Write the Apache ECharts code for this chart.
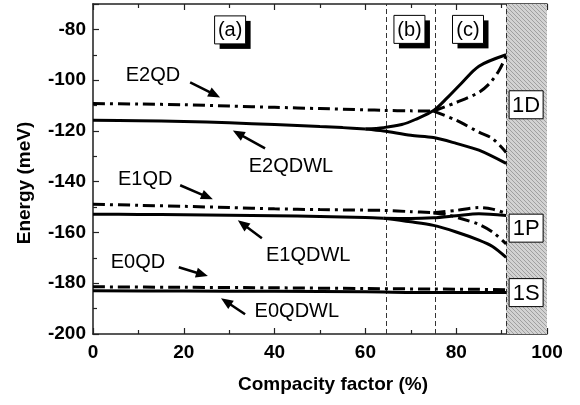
<!DOCTYPE html>
<html><head><meta charset="utf-8">
<script src="https://cdn.jsdelivr.net/npm/echarts@6/dist/echarts.min.js"></script>
<style>html,body{margin:0;padding:0;background:#fff}#c{width:580px;height:405px}</style>
</head><body><div id="c"></div>
<script>
// ---- data ----
const xTicks = [0, 20, 40, 60, 80, 100];
const yTicks = [-200, -180, -160, -140, -120, -100, -80];
const regionLines = [64.5, 75.3, 91];
const xTitle = 'Compacity factor (%)';
const yTitle = 'Energy (meV)';

const e2qdX = [0, 10, 20, 30, 40, 50, 60, 64, 70, 75];
const e2qdY = [-109.2, -109.4, -109.7, -110.2, -110.7, -111.2, -111.7, -111.9, -112.1, -112.2];
const e2qdUpX = [75, 80, 85, 87.5, 89.5, 91];
const e2qdUpY = [-112.2, -108.8, -104.8, -101, -96, -90.5];
const e2qdLoX = [75, 80, 85, 88, 91];
const e2qdLoY = [-112.2, -115.8, -120.5, -123, -128.5];

const e2wlX = [0, 10, 20, 30, 40, 50, 55, 60];
const e2wlY = [-115.8, -116, -116.3, -116.8, -117.5, -118.3, -118.7, -119.2];
const e2wlUpX = [60, 64, 68, 71, 75, 78, 81, 85, 91];
const e2wlUpY = [-119.2, -118.7, -117.5, -115.5, -112, -107, -101.5, -94.5, -90];
const e2wlLoX = [60, 64, 70, 75, 80, 85, 91];
const e2wlLoY = [-119.2, -120, -121.7, -122.6, -124.9, -127.6, -132.8];

const e1qdX = [0, 10, 20, 30, 40, 50, 60, 64, 70, 75];
const e1qdY = [-148.9, -149.3, -149.7, -150.2, -150.7, -151, -151.2, -151.3, -151.8, -152.2];
const e1qdUpX = [75, 80, 85, 88, 91];
const e1qdUpY = [-152.2, -151.3, -150.2, -150.8, -152.5];
const e1qdLoX = [75, 78, 81, 85, 88, 91];
const e1qdLoY = [-152.3, -153, -154.5, -156.8, -159.8, -164.5];

const e1wlX = [0, 10, 20, 30, 40, 50, 60, 64];
const e1wlY = [-152.8, -152.9, -153, -153.2, -153.4, -153.7, -154.1, -154.4];
const e1wlUpX = [64, 70, 75, 80, 85, 91];
const e1wlUpY = [-154.4, -154.5, -154.2, -153.4, -152.6, -153.3];
const e1wlLoX = [64, 70, 75, 80, 85, 88, 91];
const e1wlLoY = [-154.4, -155.8, -157.2, -159.8, -163, -165.5, -169.8];

const e0qdX = [0, 20, 40, 60, 75, 85, 91];
const e0qdY = [-181.4, -181.6, -181.8, -182.1, -182.3, -182.4, -182.6];
const e0wlX = [0, 20, 40, 60, 75, 85, 91];
const e0wlY = [-183, -183.1, -183.2, -183.4, -183.7, -183.7, -183.7];

// annotations (data coordinates)
const labelNames = ['E2QD', 'E2QDWL', 'E1QD', 'E1QDWL', 'E0QD', 'E0QDWL'];
const labelPos = [[13.2, -98.1], [43.6, -133.9], [11.5, -139.1], [47.4, -169], [9.9, -171.7], [44.9, -191]];
const arrowTail = [[21.4, -100.9], [37.9, -126.9], [19.2, -141.4], [37.2, -162.3], [18.9, -173.7], [33.5, -192.2]];
const arrowHead = [[28.0, -106.8], [30.8, -119.8], [26.4, -146.9], [31.9, -155.2], [25.3, -177.2], [28.2, -185.9]];
const boxNames = ['(a)', '(b)', '(c)', '1D', '1P', '1S'];
const boxPos = [[30.2, -80.2], [69.7, -80], [82.6, -80], [95.4, -109.7], [95.4, -158.3], [95.4, -183.7]];
const boxShadow = [true, true, true, false, false, false];

// ---- chart ----
function pairs(xs, ys) { return xs.map((x, i) => [x, ys[i]]); }
const DASHDOT = [12, 5, 3, 5];
function line(name, xs, ys, dashed) {
  return {
    type: 'line', name: name, data: pairs(xs, ys), showSymbol: false, symbol: 'none',
    smooth: 0.3, animation: false, z: 5,
    lineStyle: { color: '#000', width: 3, type: dashed ? DASHDOT : 'solid', cap: 'butt' }
  };
}

const pc = document.createElement('canvas');
pc.width = 4; pc.height = 4;
const g = pc.getContext('2d');
g.fillStyle = '#d2d2d2'; g.fillRect(0, 0, 4, 4);
g.strokeStyle = '#a0a0a0'; g.lineWidth = 1;
g.beginPath(); g.moveTo(-1, -1); g.lineTo(5, 5); g.moveTo(-1, 3); g.lineTo(1, 5); g.moveTo(3, -1); g.lineTo(5, 1); g.stroke();

const chart = echarts.init(document.getElementById('c'), null, { renderer: 'canvas' });
const FAM = '"Liberation Sans", Arial, sans-serif';
const boldFont = { fontFamily: FAM, fontWeight: 'bold', fontSize: 19, color: '#000' };

const series = [
  line('E2QD', e2qdX, e2qdY, true),
  line('E2QD up', e2qdUpX, e2qdUpY, true),
  line('E2QD lo', e2qdLoX, e2qdLoY, true),
  line('E2QDWL', e2wlX, e2wlY, false),
  line('E2QDWL up', e2wlUpX, e2wlUpY, false),
  line('E2QDWL lo', e2wlLoX, e2wlLoY, false),
  line('E1QD', e1qdX, e1qdY, true),
  line('E1QD up', e1qdUpX, e1qdUpY, true),
  line('E1QD lo', e1qdLoX, e1qdLoY, true),
  line('E1QDWL', e1wlX, e1wlY, false),
  line('E1QDWL up', e1wlUpX, e1wlUpY, false),
  line('E1QDWL lo', e1wlLoX, e1wlLoY, false),
  line('E0QD', e0qdX, e0qdY, true),
  line('E0QDWL', e0wlX, e0wlY, false)
];
series.push({
  type: 'line', data: [], silent: true, animation: false,
  markArea: { silent: true, itemStyle: { color: { image: pc, repeat: 'repeat' }, opacity: 1 },
    data: [[{ xAxis: regionLines[2], yAxis: -200 }, { xAxis: 100, yAxis: -70 }]] },
  markLine: { silent: true, symbol: 'none', animation: false, label: { show: false },
    lineStyle: { color: '#333', width: 1, type: [5, 3] },
    data: regionLines.map(v => ({ xAxis: v })) }
});

const tickStyle = { color: '#222', width: 1.2 };
chart.setOption({
  animation: false,
  grid: { left: 93, right: 33, top: 4, bottom: 71, containLabel: false },
  xAxis: [{
    type: 'value', min: 0, max: 100, interval: 20,
    axisLine: { lineStyle: { color: '#222', width: 1.5 } },
    axisTick: { inside: true, length: 6, lineStyle: tickStyle },
    minorTick: { show: true, splitNumber: 2, length: 4, lineStyle: tickStyle },
    axisLabel: Object.assign({ margin: 9 }, boldFont),
    splitLine: { show: false }
  }, {
    type: 'value', min: 0, max: 100, interval: 20, position: 'top',
    axisLine: { lineStyle: { color: '#222', width: 1.5 } },
    axisTick: { inside: true, length: 6, lineStyle: tickStyle },
    minorTick: { show: true, splitNumber: 2, length: 4, lineStyle: tickStyle },
    axisLabel: { show: false }, splitLine: { show: false }
  }],
  yAxis: [{
    type: 'value', min: -200, max: -70, interval: 20,
    axisLine: { lineStyle: { color: '#222', width: 1.5 } },
    axisTick: { inside: true, length: 6, lineStyle: tickStyle },
    minorTick: { show: true, splitNumber: 2, length: 4, lineStyle: tickStyle },
    axisLabel: Object.assign({ margin: 7, formatter: v => (v === -70 ? '' : String(v)) }, boldFont),
    splitLine: { show: false }
  }, {
    type: 'value', min: -200, max: -70, position: 'right',
    axisLine: { show: true, lineStyle: { color: '#555', width: 1.5 } },
    axisTick: { show: false }, axisLabel: { show: false }, splitLine: { show: false }
  }],
  series: series
});

function px(p) { return chart.convertToPixel({ xAxisIndex: 0, yAxisIndex: 0 }, p); }
const graphics = [];
// axis titles
graphics.push({ type: 'text', x: 333, y: 385, z: 20,
  style: { text: xTitle, font: 'bold 19px ' + FAM, fill: '#000', align: 'center', verticalAlign: 'middle' } });
graphics.push({ type: 'text', x: 25, y: 183, rotation: Math.PI / 2, z: 20,
  style: { text: yTitle, font: 'bold 19px ' + FAM, fill: '#000', align: 'center', verticalAlign: 'middle' } });

const textFont = '20px ' + FAM;
labelNames.forEach((n, i) => {
  const p = px(labelPos[i]);
  graphics.push({ type: 'text', x: p[0], y: p[1], z: 20,
    style: { text: n, font: textFont, fill: '#000', align: 'center', verticalAlign: 'middle' } });
  const t = px(arrowTail[i]), h = px(arrowHead[i]);
  const dx = h[0] - t[0], dy = h[1] - t[1], L = Math.hypot(dx, dy), ux = dx / L, uy = dy / L;
  const hl = 12, hw = 5;
  const bx = h[0] - ux * hl, by = h[1] - uy * hl;
  graphics.push({ type: 'line', z: 20, shape: { x1: t[0], y1: t[1], x2: bx + ux * 2, y2: by + uy * 2 },
    style: { stroke: '#000', lineWidth: 2.5 } });
  graphics.push({ type: 'polygon', z: 20, shape: { points: [[h[0], h[1]], [bx - uy * hw, by + ux * hw], [bx + uy * hw, by - ux * hw]] },
    style: { fill: '#000' } });
});
boxNames.forEach((n, i) => {
  const p = px(boxPos[i]);
  const w = n.length === 3 ? 31 : 34, hh = 28;
  if (boxShadow[i]) {
    graphics.push({ type: 'rect', z: 20, shape: { x: p[0] - w / 2 + 5, y: p[1] - hh / 2 + 5, width: w, height: hh }, style: { fill: '#000' } });
  }
  graphics.push({ type: 'rect', z: 21, shape: { x: p[0] - w / 2, y: p[1] - hh / 2, width: w, height: hh }, style: { fill: '#fff', stroke: '#000', lineWidth: 1 } });
  graphics.push({ type: 'text', z: 22, x: p[0], y: p[1] + 1,
    style: { text: n, font: (n.length === 3 ? '20px ' : '22px ') + FAM, fill: '#000', align: 'center', verticalAlign: 'middle' } });
});
chart.setOption({ graphic: graphics });
</script></body></html>
